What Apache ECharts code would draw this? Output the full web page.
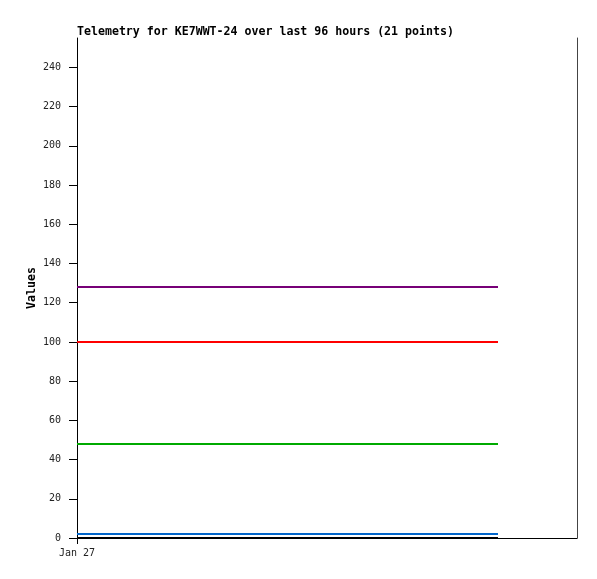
<!DOCTYPE html>
<html><head><meta charset="utf-8">
<script src="https://cdn.jsdelivr.net/npm/echarts@6/dist/echarts.min.js"></script>
<style>html,body{margin:0;padding:0;background:#fff}#c{width:597px;height:579px}</style>
</head><body><div id="c"></div>
<script>
const titleText = 'Telemetry for KE7WWT-24 over last 96 hours (21 points)';
const yAxisName = 'Values';
const xTickLabel = 'Jan 27';
// hours since Jan 27 00:00 for the 21 samples
const hours = [0, 4.2, 8.4, 12.6, 16.8, 21.0, 25.3, 29.5, 33.7, 37.9, 42.1, 46.3, 50.5, 54.7, 58.9, 63.1, 67.4, 71.6, 75.8, 80.0, 84.2];
const purpleVals = [128,128,128,128,128,128,128,128,128,128,128,128,128,128,128,128,128,128,128,128,128];
const redVals    = [100,100,100,100,100,100,100,100,100,100,100,100,100,100,100,100,100,100,100,100,100];
const greenVals  = [48,48,48,48,48,48,48,48,48,48,48,48,48,48,48,48,48,48,48,48,48];
const blueVals   = [2,2,2,2,2,2,2,2,2,2,2,2,2,2,2,2,2,2,2,2,2];
const blackVals  = [0,0,0,0,0,0,0,0,0,0,0,0,0,0,0,0,0,0,0,0,0];
const yTicks = [0,20,40,60,80,100,120,140,160,180,200,220,240];

const seriesDefs = [
  {name:'ch1', vals: purpleVals, color:'#770077'},
  {name:'ch2', vals: redVals, color:'#ff0000'},
  {name:'ch3', vals: greenVals, color:'#00aa00'},
  {name:'ch4', vals: blueVals, color:'#0066cc'},
  {name:'ch5', vals: blackVals, color:'#000000'}
];

const chart = echarts.init(document.getElementById('c'));
chart.setOption({
  animation:false,
  title:{text:titleText,left:72,top:21,textStyle:{fontFamily:'DejaVu Sans Mono',fontWeight:'bold',fontSize:11.6,color:'#000'}},
  grid:{left:77,right:20,top:38,bottom:41},
  xAxis:{type:'value',min:0,max:100,interval:100,
    axisLine:{lineStyle:{color:'#000',width:1}},
    axisTick:{show:true,length:6,lineStyle:{color:'#000'}},
    axisLabel:{formatter:v=>v===0?xTickLabel:'',fontFamily:'DejaVu Sans Mono',fontSize:10,color:'#222',margin:10,showMaxLabel:false},
    splitLine:{show:false}},
  yAxis:[{type:'value',min:0,max:255,interval:20,
    name:yAxisName,nameLocation:'middle',nameGap:39,nameMoveOverlap:false,
    nameTextStyle:{fontFamily:'DejaVu Sans Mono',fontWeight:'bold',fontSize:11.6,color:'#000'},
    axisLine:{show:true,lineStyle:{color:'#000',width:1}},
    axisTick:{show:true,length:8,lineStyle:{color:'#000'}},
    axisLabel:{formatter:v=>yTicks.includes(v)?String(v):'',fontFamily:'DejaVu Sans Mono',fontSize:10,color:'#222',margin:16,showMaxLabel:false},
    splitLine:{show:false}},
   {type:'value',position:'right',min:0,max:255,
    axisLine:{show:true,lineStyle:{color:'#444',width:1}},
    axisTick:{show:false},axisLabel:{show:false},splitLine:{show:false}}],
  series: seriesDefs.map(s=>({
    name:s.name,type:'line',symbol:'none',
    data:hours.map((h,i)=>[h,s.vals[i]]),
    lineStyle:{color:s.color,width:2},itemStyle:{color:s.color}
  }))
});
</script></body></html>
